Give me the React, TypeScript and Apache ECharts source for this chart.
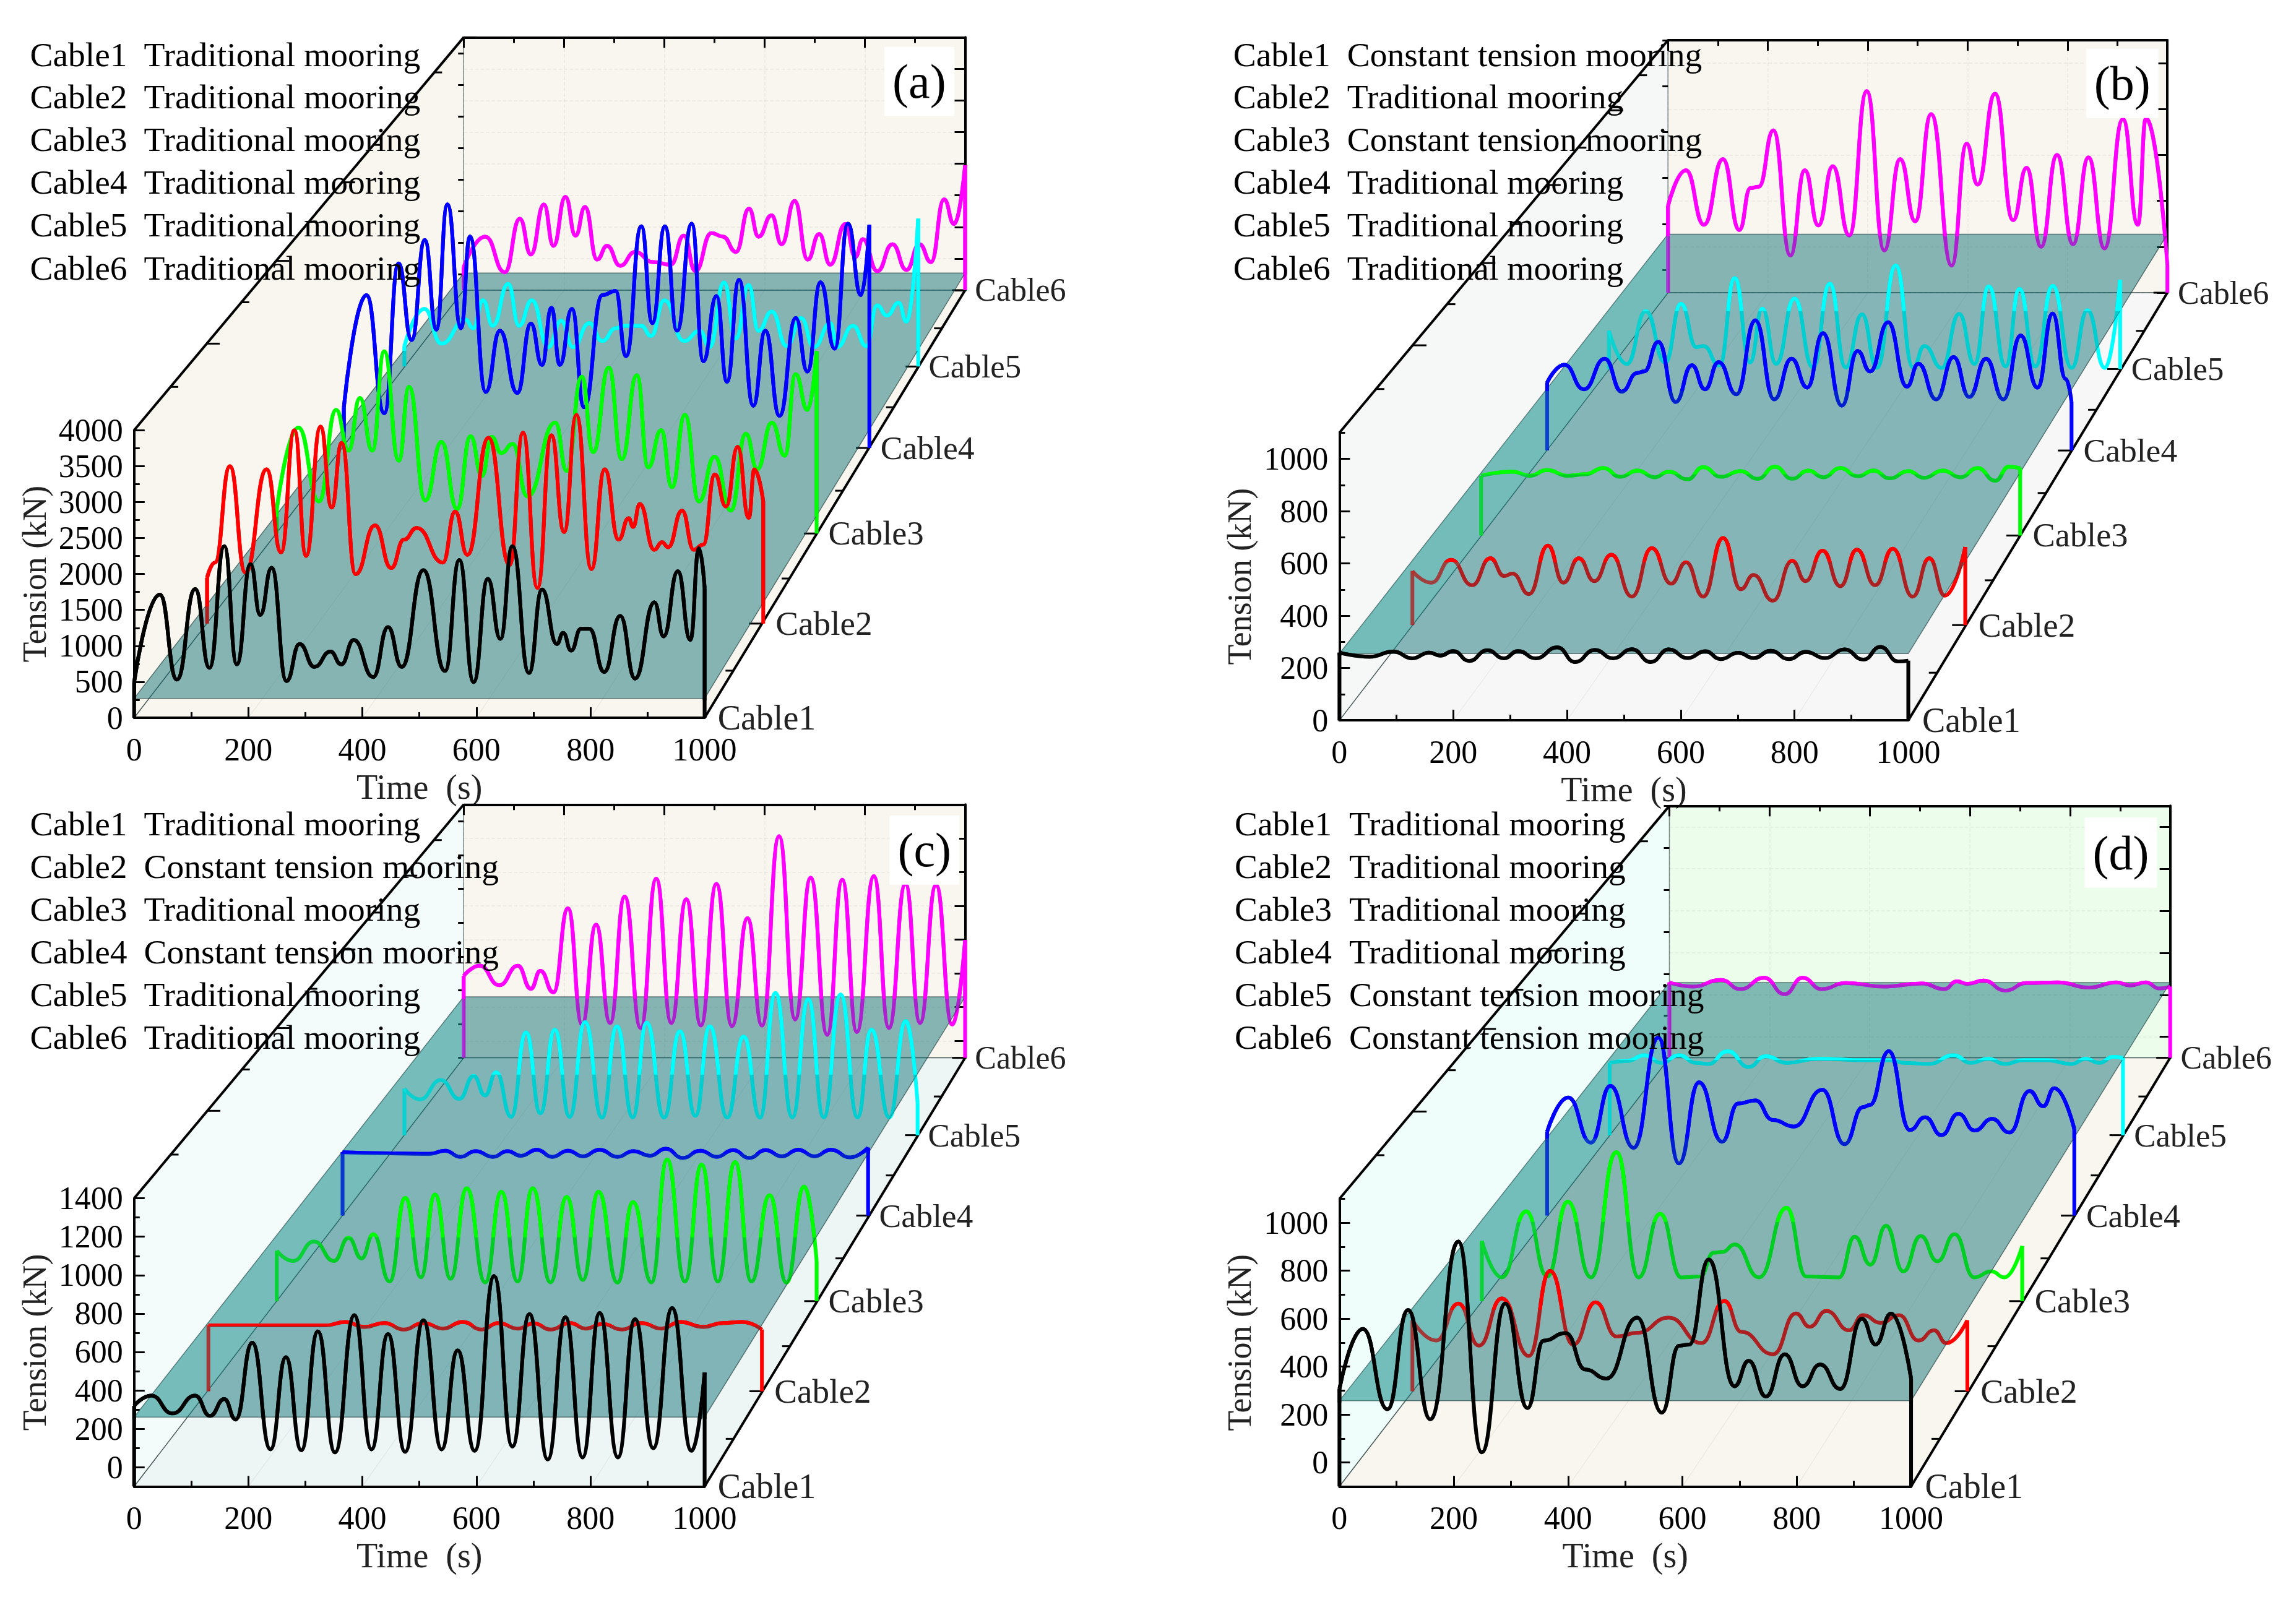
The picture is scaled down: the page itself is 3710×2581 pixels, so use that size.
import React, { useEffect, useRef } from "react";
import * as echarts from "echarts";

// ---------- tick labels ----------
const xMajor = [0, 200, 400, 600, 800, 1000];
const yMajorA = [0, 500, 1000, 1500, 2000, 2500, 3000, 3500, 4000];
const yMinorA = [250, 750, 1250, 1750, 2250, 2750, 3250, 3750];
const yMajorB = [0, 200, 400, 600, 800, 1000];
const yMinorB = [100, 300, 500, 700, 900, 1100];
const yMajorC = [0, 200, 400, 600, 800, 1000, 1200, 1400];
const yMinorC = [-100, 100, 300, 500, 700, 900, 1100, 1300];
const yMajorD = [0, 200, 400, 600, 800, 1000];
const yMinorD = [-100, 100, 300, 500, 700, 900, 1100];
const cableNames = ["Cable1", "Cable2", "Cable3", "Cable4", "Cable5", "Cable6"];
const T = "Traditional mooring";
const K = "Constant tension mooring";
const mooringA = [T, T, T, T, T, T];
const mooringB = [K, T, K, T, T, T];
const mooringC = [T, K, T, K, T, T];
const mooringD = [T, T, T, T, K, K];
const cableColors = ["#000000", "#ff0000", "#00ff00", "#0000ff", "#00ffff", "#ff00ff"];

// ---------- panel (a) ----------
const a1T = [0,45,75,107,132,158,180,204,221,241,267,290,316,344,363,385,419,445,469,507,545,570,595,620,642,663,692,715,741,752,766,783,798,824,852,878,912,928,953,975,990,1000];
const a1V = [495,1713,531,1790,694,2385,743,2137,1430,2088,510,1026,708,920,743,1083,566,1260,708,2052,651,2194,495,1932,1097,2385,623,1783,1026,1182,934,1238,1238,637,1415,545,1606,1132,2038,1083,2357,1805];
const a2T = [0,14,41,69,107,133,157,178,204,224,242,267,302,331,354,377,424,446,468,506,544,568,594,619,642,664,691,715,740,758,766,778,804,818,829,854,875,892,913,933,954,974,984,1000];
const a2V = [654,871,2244,726,2200,1017,2760,966,2810,1656,2578,704,1402,792,1198,1365,871,1598,980,2651,835,2723,508,2687,1307,2977,777,2200,1198,1503,1380,1707,1053,1162,1089,1612,1053,1126,2128,1670,2520,1510,2200,1743];
const a3T = [0,40,78,110,133,154,177,199,226,245,275,305,334,359,380,398,416,437,464,516,537,565,586,615,639,667,688,712,732,756,782,811,841,869,890,917,941,961,983,1000];
const a3V = [359,1556,471,1817,1219,1990,1219,2678,1070,2154,486,1346,359,1429,845,1421,1182,1316,546,1630,920,2304,1197,2438,1092,2326,972,1518,681,1743,471,1129,337,1466,942,1630,1144,2341,1817,2678];
const a4T = [0,43,77,104,129,154,176,197,223,240,270,297,330,356,377,395,411,434,457,492,517,537,566,587,611,634,662,684,709,729,752,779,802,829,860,882,907,934,959,984,1000];
const a4V = [615,2308,523,2785,1631,3138,1785,3677,1808,3192,846,1769,831,1877,1254,2115,1254,2100,615,2308,2369,1385,3346,1885,3346,1769,3385,1308,2292,1000,2538,638,1769,485,1962,1154,2500,1500,3385,2308,3369];
const a5T = [0,39,72,119,134,153,172,202,223,248,280,305,328,360,385,411,430,461,480,506,544,575,594,622,645,670,689,715,744,772,797,829,842,873,899,920,939,962,977,1000];
const a5V = [315,890,354,724,591,1024,630,1276,630,1024,300,709,300,669,394,591,630,630,472,1024,394,551,300,1299,433,1260,551,850,315,748,300,669,300,630,315,945,787,984,693,2283];
const a6T = [0,43,82,112,134,160,179,203,223,242,266,286,312,342,377,413,439,462,494,517,543,569,588,614,634,660,686,709,731,761,781,796,825,855,883,909,932,958,978,1000];
const a6V = [363,847,282,1129,565,1355,702,1476,863,1315,484,702,387,605,444,403,863,300,903,847,605,1290,847,1185,726,1411,484,887,403,1048,524,806,300,726,320,726,444,1435,1048,1976];

// ---------- panel (b) ----------
const b1T = [0,53,95,128,158,177,200,228,260,289,314,345,383,414,449,481,514,547,579,612,643,670,701,728,758,790,820,853,888,921,951,982,1000];
const b1V = [259,243,263,237,259,247,265,227,268,237,265,237,279,223,269,237,272,223,271,238,264,234,258,238,266,234,262,238,271,232,281,225,228];
const b2T = [0,34,70,108,141,166,181,211,245,273,301,329,360,397,433,468,495,526,562,594,617,652,687,711,742,774,804,837,869,905,935,963,1000];
const b2V = [213,167,257,157,263,193,203,122,313,167,263,173,277,112,303,163,247,112,343,141,197,96,253,173,293,153,297,157,301,112,263,116,307];
const b3T = [0,58,90,122,161,193,227,258,290,322,348,383,412,445,481,513,545,577,607,635,666,699,728,758,793,821,857,889,921,954,979,1000];
const b3V = [241,258,241,264,241,247,272,237,262,235,258,227,276,237,260,229,278,229,262,235,272,239,262,231,260,233,262,235,272,221,278,272];
const b4T = [0,33,70,110,142,172,185,212,245,276,301,327,361,397,433,466,496,526,562,592,616,650,686,708,742,775,805,837,870,903,935,964,989,1000];
const b4V = [282,356,254,381,244,322,328,451,201,354,254,367,233,540,212,381,261,487,186,413,328,532,265,360,212,388,222,381,212,477,261,568,297,201];
const b5T = [0,35,72,110,141,171,185,216,246,276,300,327,363,399,432,463,495,524,561,595,617,651,685,715,743,776,803,834,868,905,936,970,1000];
const b5V = [163,22,246,28,278,93,98,15,387,28,257,22,300,7,363,7,233,5,441,7,98,5,235,22,352,11,341,11,354,5,250,5,380];
const b6T = [0,36,72,110,143,165,182,211,245,274,301,330,363,398,433,465,495,527,568,598,620,655,691,718,747,779,811,842,874,911,941,957,1000];
const b6V = [378,533,296,582,273,456,462,707,162,533,293,551,249,878,184,582,311,778,118,649,471,867,316,544,200,600,211,589,193,756,296,760,122];

// ---------- panel (c) ----------
const c1T = [0,30,67,107,133,158,178,207,239,266,293,322,352,386,416,445,475,507,539,567,597,631,663,693,725,756,786,816,848,878,910,943,977,1000];
const c1V = [320,373,280,373,267,355,248,648,93,573,88,707,77,792,93,693,80,765,93,608,85,995,107,797,40,781,51,803,51,771,99,829,85,493];
const c2T = [0,118,212,247,282,318,353,388,424,459,494,524,559,588,618,653,682,712,747,782,818,853,894,929,965,1000];
const c2V = [253,253,253,272,245,266,231,266,236,272,231,266,236,264,231,266,236,261,231,266,236,272,245,266,272,231];
const c3T = [0,30,69,106,133,157,179,209,238,267,293,322,352,386,416,446,474,507,537,567,596,631,660,694,723,756,787,817,849,879,913,944,977,1000];
const c3V = [177,121,228,121,248,135,268,8,468,31,487,23,521,3,501,8,521,3,473,17,501,2,445,3,679,8,651,8,665,8,482,2,530,121];
const c4T = [0,92,166,195,224,253,286,314,339,370,399,429,457,489,523,553,585,615,647,681,712,743,774,805,836,867,898,929,966,1000];
const c4V = [258,252,249,267,232,264,232,264,238,272,232,267,235,272,232,264,238,278,226,267,232,270,226,270,235,272,235,272,229,284];
const c5T = [0,30,71,107,135,157,179,208,237,265,293,322,352,385,414,445,472,506,537,567,595,629,661,693,723,756,787,817,850,883,910,945,977,1000];
const c5V = [169,107,219,110,243,130,264,6,495,27,510,6,554,2,530,3,551,2,501,12,530,2,471,2,723,3,687,3,714,3,510,3,560,86];
const c6T = [0,32,71,108,134,153,179,208,236,264,292,321,353,384,414,444,473,504,535,566,595,629,661,692,725,755,784,818,848,881,910,942,974,1000];
const c6V = [385,445,330,445,309,415,288,785,97,688,106,855,76,961,106,839,91,930,88,727,91,1212,127,967,36,955,52,976,76,930,106,924,97,597];

// ---------- panel (d) ----------
const d1T = [0,41,84,120,159,208,249,290,329,357,396,430,467,521,564,594,612,646,691,716,746,779,810,841,876,914,938,965,1000];
const d1V = [307,557,222,636,180,922,42,663,227,508,540,388,350,604,208,487,492,847,318,424,275,451,318,409,307,600,492,621,350];
const d2T = [0,43,83,120,161,210,248,290,330,368,405,462,521,562,593,650,691,716,746,787,812,844,877,912,940,962,1000];
const d2V = [205,118,277,96,299,52,417,100,282,135,151,216,107,288,155,59,234,177,245,162,227,194,227,118,162,107,205];
const d3T = [0,37,82,121,159,202,249,290,330,369,404,429,445,468,513,564,600,661,690,719,748,780,812,843,875,911,943,967,1000];
const d3V = [166,5,296,9,339,5,558,5,285,5,9,114,117,150,5,312,9,5,184,61,233,31,188,76,195,5,31,5,143];
const d4T = [0,40,83,120,164,211,250,288,332,362,395,428,468,522,564,599,612,648,688,717,748,780,811,844,877,915,941,962,1000];
const d4V = [280,434,230,487,207,706,136,503,234,407,421,333,303,469,223,391,400,644,287,345,264,361,285,338,276,464,395,476,292];
const d5T = [0,34,68,101,135,169,192,230,271,304,345,406,501,548,575,622,670,704,737,771,805,852,900,927,954,981,1000];
const d5V = [236,245,271,236,271,236,231,290,217,267,236,255,248,248,236,231,271,236,255,231,248,248,231,255,236,264,259];
const d6T = [0,47,103,142,189,230,266,304,352,428,504,549,574,595,627,671,713,775,838,893,920,951,979,1000];
const d6V = [259,239,271,227,281,203,281,227,256,239,254,227,264,252,268,220,256,259,235,259,244,259,230,239];

const zip = (t: number[], v: number[]) => t.map((x, i) => [x, v[i]]);

// ---------- panel layouts (measured in scaled crop units, converted by sx / sy) ----------
const SERIF = "Liberation Serif";
const panels = [
  {
    tag: "(a)", xOff: 0, yOff: 0, sx: 0.9503, sy: 1.2155,
    x0: [206, 318, 425, 528, 621, 712], w: [876, 854, 829, 807, 789, 770], yb: [1410, 1225, 1048, 880, 720, 570],
    frontTop: 845, min: 0, max: 4000, plane: 270, major: yMajorA, minor: yMinorA, yName: "Tension (kN)",
    legendX: [46, 221], legendY: [107, 190, 274, 358, 442, 527], tagBox: [1358, 92, 1465, 228], moorings: mooringA,
    back: "#f8f6ee", left: "#f8f6ee", floor: "#f8f6ee", wedge: "",
    data: [zip(a1T, a1V), zip(a2T, a2V), zip(a3T, a3V), zip(a4T, a4V), zip(a5T, a5V), zip(a6T, a6V)],
  },
  {
    tag: "(b)", xOff: 1950, yOff: 0, sx: 0.891, sy: 1.2155,
    x0: [191, 296, 395, 490, 579, 664], w: [819, 796, 776, 755, 736, 719], yb: [1415, 1228, 1052, 885, 725, 575],
    frontTop: 850, min: 0, max: 1100, plane: 255, major: yMajorB, minor: yMinorB, yName: "Tension (kN)",
    legendX: [38, 202], legendY: [107, 190, 274, 358, 442, 527], tagBox: [1266, 96, 1370, 232], moorings: mooringB,
    back: "#f8f6ee", left: "#f6f7f7", floor: "#f7f7f7", wedge: "rgba(70,210,190,0.28)",
    data: [zip(b1T, b1V), zip(b2T, b2V), zip(b3T, b3V), zip(b4T, b4V), zip(b5T, b5V), zip(b6T, b6V)],
  },
  {
    tag: "(c)", xOff: 0, yOff: 1290, sx: 0.9503, sy: 1.2155,
    x0: [206, 320, 425, 526, 621, 712], w: [876, 850, 829, 807, 788, 770], yb: [1352, 1165, 988, 820, 662, 510],
    frontTop: 786, min: -100, max: 1400, plane: 261, major: yMajorC, minor: yMinorC, yName: "Tension (kN)",
    legendX: [46, 221], legendY: [51, 134, 218, 302, 386, 470], tagBox: [1366, 34, 1473, 170], moorings: mooringC,
    back: "#f8f6ee", left: "#f4fbfb", floor: "#eef6f5", wedge: "rgba(70,210,190,0.22)",
    data: [zip(c1T, c1V), zip(c2T, c2V), zip(c3T, c3V), zip(c4T, c4V), zip(c5T, c5V), zip(c6T, c6V)],
  },
  {
    tag: "(d)", xOff: 1950, yOff: 1290, sx: 0.891, sy: 1.2155,
    x0: [191, 296, 396, 490, 580, 666], w: [823, 799, 778, 759, 739, 721], yb: [1352, 1165, 988, 820, 662, 510],
    frontTop: 787, min: -100, max: 1100, plane: 258, major: yMajorD, minor: yMinorD, yName: "Tension (kN)",
    legendX: [40, 205], legendY: [51, 134, 218, 302, 386, 470], tagBox: [1264, 38, 1368, 176], moorings: mooringD,
    back: "#edfdec", left: "#effdfb", floor: "#f8f6ee", wedge: "rgba(70,210,190,0.22)",
    data: [zip(d1T, d1V), zip(d2T, d2V), zip(d3T, d3V), zip(d4T, d4V), zip(d5T, d5V), zip(d6T, d6V)],
  },
];

const BLACK = "#000000";
const plainLabel = (v: number) => String(v);

function buildOption() {
  const grid: any[] = [];
  const xAxis: any[] = [];
  const yAxis: any[] = [];
  const series: any[] = [];
  const elements: any[] = [];

  panels.forEach((p) => {
    const X = (d: number) => p.xOff + d / p.sx;
    const Y = (d: number) => p.yOff + d / p.sy;
    const P = (a: number, b: number) => [X(a), Y(b)];
    const frontH = p.yb[0] - p.frontTop;
    const range = p.max - p.min;
    const heights = p.w.map((w) => (frontH * w) / p.w[0]);
    const planeY = p.yb.map((b, i) => b - (heights[i] * (p.plane - p.min)) / range);
    const x1 = p.x0.map((x, i) => x + p.w[i]);
    const ytop = p.yb.map((b, i) => b - heights[i]);

    // walls
    const wall = (pts: number[][], fill: string, z: number) =>
      elements.push({ type: "polygon", silent: true, z, shape: { points: pts }, style: { fill } });
    const line = (a: number[], b: number[], lw: number, stroke = BLACK, z = 1) =>
      elements.push({ type: "line", silent: true, z, shape: { x1: a[0], y1: a[1], x2: b[0], y2: b[1] }, style: { stroke, lineWidth: lw } });
    wall([P(x1[5], ytop[5]), P(p.x0[5], ytop[5]), P(p.x0[5], p.yb[5]), P(x1[5], p.yb[5])], p.back, -3);
    wall([P(p.x0[0], ytop[0]), P(p.x0[5], ytop[5]), P(p.x0[5], p.yb[5]), P(p.x0[0], p.yb[0])], p.left, -3);
    wall([P(p.x0[0], p.yb[0]), P(x1[0], p.yb[0]), P(x1[5], p.yb[5]), P(p.x0[5], p.yb[5])], p.floor, -3);
    line(P(p.x0[5], ytop[5]), P(p.x0[5], p.yb[5]), 1.5, "#7a8a8a", -2);
    line(P(p.x0[5], p.yb[5]), P(x1[5], p.yb[5]), 1.5, "#445555", -2);
    line(P(p.x0[0], p.yb[0]), P(p.x0[5], p.yb[5]), 1.5, "#445555", -2);
    line(P(p.x0[0], ytop[0]), P(p.x0[5], ytop[5]), 4);
    line(P(x1[0], p.yb[0]), P(x1[5], p.yb[5]), 4);
    // faint floor grid
    xMajor.slice(1, 5).forEach((t) => {
      line(P(p.x0[0] + (p.w[0] * t) / 1000, p.yb[0]), P(p.x0[5] + (p.w[5] * t) / 1000, p.yb[5]), 1.5, "rgba(0,0,0,0.05)", -2);
    });

    // depth ticks and labels
    const span = p.yb[0] - p.yb[5];
    const depthTick = (by: number, major: boolean) => {
      const f = (p.yb[0] - by) / span;
      const fx = x1[0] + f * (x1[5] - x1[0]);
      const len = major ? 20 : 12;
      line(P(fx - len, by), P(fx, by), 3);
      const ty = ytop[0] + f * (ytop[5] - ytop[0]);
      const tx = p.x0[0] + f * (p.x0[5] - p.x0[0]);
      line(P(tx, ty), P(tx + len, ty), 3);
    };
    p.yb.forEach((b, i) => {
      if (i > 0) depthTick(b, true);
      if (i < 5) depthTick((b + p.yb[i + 1]) / 2, false);
      const pt = P(x1[i] + 20 - i, b);
      elements.push({
        type: "text", silent: true, z: 20, x: pt[0], y: pt[1],
        style: { text: cableNames[i], font: `${56 - 0.8 * i}px "${SERIF}"`, fill: "#222", textAlign: "left", textVerticalAlign: "middle" },
      });
    });

    // plane, over the full lines
    elements.push({
      type: "polygon", silent: true, z: 6,
      shape: { points: [P(p.x0[0], planeY[0]), P(x1[0], planeY[0]), P(x1[5], planeY[5]), P(p.x0[5], planeY[5])] },
      style: { fill: "rgba(0,102,110,0.46)", stroke: "rgba(20,50,50,0.6)", lineWidth: 1.5 },
    });
    if (p.wedge) {
      const f = (p.yb[0] - planeY[0]) / span;
      const xf = p.x0[0] + f * (p.x0[5] - p.x0[0]);
      elements.push({
        type: "polygon", silent: true, z: 6,
        shape: { points: [P(p.x0[0], planeY[0]), P(xf, planeY[0]), P(p.x0[5], p.yb[5]), P(p.x0[5], planeY[5])] },
        style: { fill: p.wedge },
      });
    }

    // legend text and tag
    p.legendY.forEach((ly, i) => {
      const a = P(p.legendX[0], ly);
      const b = P(p.legendX[1], ly);
      elements.push({ type: "text", silent: true, z: 20, x: a[0], y: a[1], style: { text: cableNames[i], font: `55.5px "${SERIF}"`, fill: BLACK, textAlign: "left", textVerticalAlign: "middle" } });
      elements.push({ type: "text", silent: true, z: 20, x: b[0], y: b[1], style: { text: p.moorings[i], font: `55.5px "${SERIF}"`, fill: BLACK, textAlign: "left", textVerticalAlign: "middle" } });
    });
    const tl = P(p.tagBox[0], p.tagBox[1]);
    const br = P(p.tagBox[2], p.tagBox[3]);
    elements.push({ type: "rect", silent: true, z: 18, shape: { x: tl[0], y: tl[1], width: br[0] - tl[0], height: br[1] - tl[1] }, style: { fill: "#ffffff" } });
    elements.push({ type: "text", silent: true, z: 20, x: (tl[0] + br[0]) / 2, y: (tl[1] + br[1]) / 2, style: { text: p.tag, font: `78px "${SERIF}"`, fill: BLACK, textAlign: "center", textVerticalAlign: "middle" } });

    // per-cable grids: index 0..5 from near to far
    const style = { color: BLACK, width: 3 };
    const faint = { show: true, lineStyle: { color: "rgba(0,0,0,0.06)", width: 1.5, type: "dashed" } };
    const baseX = { type: "value", min: 0, max: 1000, interval: 200, splitLine: { show: false } };
    const full: { xi: number; yi: number }[] = [];
    const upper: { xi: number; yi: number }[] = [];
    for (let i = 0; i < 6; i++) {
      const g = grid.length;
      grid.push({ left: X(p.x0[i]), top: Y(ytop[i]), width: p.w[i] / p.sx, height: heights[i] / p.sy, containLabel: false });
      const near = i === 0;
      const far = i === 5;
      const shown = near || far;
      const xi = xAxis.length;
      xAxis.push({
        ...baseX, gridIndex: g, show: shown, position: far ? "top" : "bottom",
        splitLine: far ? faint : { show: false },
        axisLine: { show: true, onZero: false, lineStyle: { color: BLACK, width: 4 } },
        axisTick: { show: true, inside: true, length: 17, lineStyle: style },
        minorTick: { show: true, splitNumber: 2, length: 9, lineStyle: style },
        axisLabel: near
          ? { show: true, margin: 25, fontFamily: SERIF, fontSize: 52, color: BLACK, formatter: plainLabel, showMinLabel: true, showMaxLabel: true }
          : { show: false },
        ...(near ? { name: "Time  (s)", nameLocation: "middle", nameGap: 84, nameTextStyle: { fontFamily: SERIF, fontSize: 56, color: "#222" } } : {}),
      });
      const yi = yAxis.length;
      yAxis.push({
        type: "value", gridIndex: g, min: p.min, max: p.max, show: shown, position: far ? "right" : "left",
        splitLine: far ? faint : { show: false },
        axisLine: { show: true, onZero: false, lineStyle: { color: BLACK, width: 4 } },
        axisTick: { show: true, inside: true, length: 17, lineStyle: style, customValues: p.major },
        axisLabel: near
          ? { show: true, margin: 18, fontFamily: SERIF, fontSize: 52, color: BLACK, formatter: plainLabel, customValues: p.major }
          : { show: false, customValues: p.major },
        ...(near ? { name: p.yName, nameLocation: "middle", nameGap: 134, nameRotate: 90, nameTextStyle: { fontFamily: SERIF, fontSize: 54, color: "#222" } } : {}),
      });
      if (shown) {
        yAxis.push({
          type: "value", gridIndex: g, min: p.min, max: p.max, show: true, position: far ? "right" : "left",
          splitLine: { show: false },
          axisLine: { show: false },
          axisTick: { show: true, inside: true, length: 9, lineStyle: style, customValues: p.minor },
          axisLabel: { show: false, customValues: p.minor },
        });
      }
      full.push({ xi, yi });

      const g2 = grid.length;
      grid.push({
        left: X(p.x0[i]), top: Y(ytop[i]), width: p.w[i] / p.sx,
        height: (heights[i] * (p.max - p.plane)) / range / p.sy, containLabel: false,
      });
      const xi2 = xAxis.length;
      xAxis.push({ ...baseX, gridIndex: g2, show: false });
      const yi2 = yAxis.length;
      yAxis.push({ type: "value", gridIndex: g2, min: p.plane, max: p.max, show: false, splitLine: { show: false } });
      upper.push({ xi: xi2, yi: yi2 });
    }

    // series: far cable first so the near cables are on top
    const addLayer = (refs: { xi: number; yi: number }[], z: number, clip: boolean, opacity: number, label: string) => {
      for (let i = 5; i >= 0; i--) {
        const d = p.data[i];
        const common = {
          type: "line", xAxisIndex: refs[i].xi, yAxisIndex: refs[i].yi, z, clip, silent: true,
          symbol: "none", showSymbol: false, lineStyle: { color: cableColors[i], width: 6, opacity }, itemStyle: { color: cableColors[i] },
        };
        series.push({ ...common, name: `${p.tag} ${cableNames[i]}${label}`, smooth: 0.5, smoothMonotone: "x", data: d });
        const first = d[0];
        const last = d[d.length - 1];
        series.push({
          ...common, name: `${p.tag} ${cableNames[i]} ends${label}`, connectNulls: false,
          data: [[0, p.min], [0, first[1]], ["-", "-"], [1000, last[1]], [1000, p.min]],
        });
      }
    };
    addLayer(full, 4, false, 1, "");
    addLayer(full, 7, false, 0.3, " tint");
    addLayer(upper, 8, true, 1, " above plane");
  });

  return { animation: false, backgroundColor: "#ffffff", grid, xAxis, yAxis, series, graphic: { elements } };
}

export default function App() {
  const ref = useRef<HTMLDivElement>(null);
  useEffect(() => {
    if (!ref.current) return;
    const chart = echarts.init(ref.current, undefined, { renderer: "svg" });
    chart.setOption(buildOption() as any);
    return () => chart.dispose();
  }, []);
  return <div ref={ref} style={{ position: "fixed", left: 0, top: 0, width: 3710, height: 2581 }} />;
}
